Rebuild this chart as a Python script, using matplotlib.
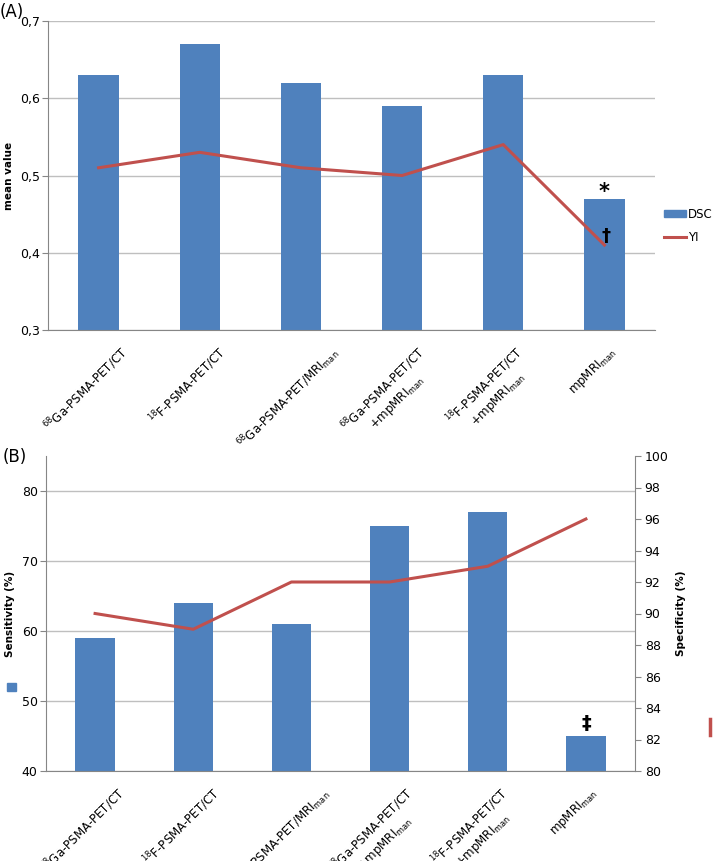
import matplotlib
matplotlib.use('Agg')
import matplotlib.pyplot as plt
from matplotlib.patches import Rectangle, Patch
from matplotlib.lines import Line2D

# Datos
categorias = [
    r'$^{68}$Ga-PSMA-PET/CT',
    r'$^{18}$F-PSMA-PET/CT',
    r'$^{68}$Ga-PSMA-PET/MRI$_{\mathrm{man}}$',
    '$^{68}$Ga-PSMA-PET/CT\n+mpMRI$_{\\mathrm{man}}$',
    '$^{18}$F-PSMA-PET/CT\n+mpMRI$_{\\mathrm{man}}$',
    r'mpMRI$_{\mathrm{man}}$',
]
dsc = [0.63, 0.67, 0.62, 0.59, 0.63, 0.47]
yi = [0.51, 0.53, 0.51, 0.50, 0.54, 0.41]
sensibilidad = [59, 64, 61, 75, 77, 45]
especificidad = [90, 89, 92, 92, 93, 96]

AZUL = '#4F81BD'
ROJO = '#C0504D'
GRIS = '#BFBFBF'
EJE = '#868686'

W, H = 716, 861
fig = plt.figure(figsize=(W / 100, H / 100), dpi=100)


def caja(x0, y0, x1, y1):
    return [x0 / W, 1 - y1 / H, (x1 - x0) / W, (y1 - y0) / H]


def estilo(ax):
    for s in ['top', 'right']:
        ax.spines[s].set_visible(False)
    ax.spines['left'].set_color(EJE)
    ax.spines['bottom'].set_color(EJE)
    ax.yaxis.grid(True, color=GRIS, linewidth=1)
    ax.set_axisbelow(True)
    ax.tick_params(axis='y', length=4, color=EJE, labelsize=9, pad=2)
    ax.tick_params(axis='x', length=0, pad=10)
    ax.set_xlim(-0.5, 5.5)
    # etiquetas algo a la izquierda del centro de cada barra, como en el original
    ax.set_xticks([i - 0.12 for i in range(len(categorias))])
    ax.set_xticklabels(categorias, rotation=45, ha='center', va='top', fontsize=8.5)


x = list(range(len(categorias)))

# Panel A
ax1 = fig.add_axes(caja(48, 21, 655, 330))
estilo(ax1)
ax1.bar(x, dsc, width=0.4, color=AZUL)
ax1.plot(x, yi, color=ROJO, linewidth=2.2)
ax1.set_ylim(0.3, 0.7)
ax1.set_yticks([0.3, 0.4, 0.5, 0.6, 0.7])
ax1.set_yticklabels(['0,3', '0,4', '0,5', '0,6', '0,7'])
ax1.set_ylabel('mean value', fontsize=7.5, fontweight='bold', labelpad=4)
ax1.text(5, 0.478, '*', ha='center', va='center', fontsize=15, fontweight='bold')
ax1.text(5.02, 0.422, '†', ha='center', va='center', fontsize=13, fontweight='bold')
fig.legend([Patch(color=AZUL), Line2D([], [], color=ROJO, linewidth=2.2)], ['DSC', 'YI'],
           loc='center left', bbox_to_anchor=(664 / W, 1 - 226 / H), frameon=False,
           fontsize=8.5, handlelength=1.9, handleheight=0.6, handletextpad=0.15,
           labelspacing=0.9, borderaxespad=0, borderpad=0)
fig.text(0.0, 1 - 12 / H, '(A)', fontsize=12, va='center')

# Panel B
ax2 = fig.add_axes(caja(46, 456, 635, 771))
estilo(ax2)
ax2.bar(x, sensibilidad, width=0.4, color=AZUL)
ax2.set_ylim(40, 85)
ax2.set_yticks([40, 50, 60, 70, 80])
ax2.set_ylabel('Sensitivity (%)', fontsize=7.5, fontweight='bold', labelpad=5)
ax2.text(5, 46.8, '‡', ha='center', va='center', fontsize=14, fontweight='bold')

ax3 = ax2.twinx()
ax3.plot(x, especificidad, color=ROJO, linewidth=2.2)
ax3.set_ylim(80, 100)
ax3.set_yticks(range(80, 101, 2))
for s in ['top', 'left', 'bottom']:
    ax3.spines[s].set_visible(False)
ax3.spines['right'].set_color(EJE)
ax3.tick_params(axis='y', length=4, color=EJE, labelsize=9, pad=3)
ax3.set_ylabel('Specificity (%)', fontsize=7.5, fontweight='bold', labelpad=5)
fig.text(3 / W, 1 - 457 / H, '(B)', fontsize=12, va='center')

# restos de leyenda del original
fig.patches.append(Rectangle((7 / W, 1 - 691 / H), 9 / W, 8 / H, color=AZUL,
                             transform=fig.transFigure, figure=fig))
fig.lines.append(Line2D([710 / W, 710 / W], [1 - 719 / H, 1 - 735 / H], color=ROJO,
                        linewidth=2.5, transform=fig.transFigure, figure=fig))

fig.savefig('out.png', dpi=100, facecolor='white')
